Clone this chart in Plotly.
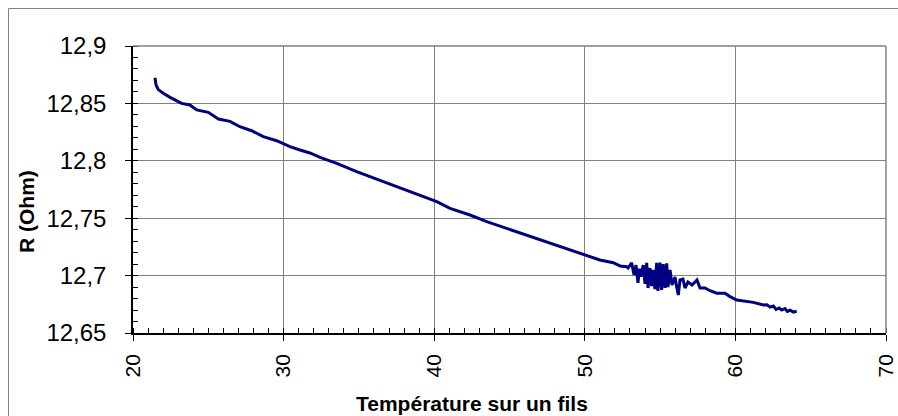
import plotly.graph_objects as go

# Temperature (x) and resistance (y)
temperature = [21.46, 21.53, 21.68, 22.01, 22.46, 22.90, 23.23, 23.78, 24.23, 25.00,
               25.67, 26.44, 27.10, 27.88, 28.65, 29.54, 30.42, 31.09, 31.75, 32.42,
               33.53, 34.85, 36.18, 37.51, 38.84, 40.17, 41.05, 42.38, 43.49, 44.81,
               46.14, 47.47, 48.80, 50.01, 51.00, 51.89, 52.34, 52.78, 52.87, 53.11,
               53.27, 53.40, 53.53, 53.63, 53.73, 53.88, 54.00, 54.11, 54.20, 54.33, 54.44,
               54.53, 54.66, 54.77, 54.86, 54.93, 54.99, 55.10, 55.21, 55.33, 55.44, 55.52,
               55.66, 55.79, 55.99, 56.10, 56.21, 56.32, 56.52, 56.65, 56.85, 57.12, 57.45,
               57.65, 57.98, 58.31, 58.76, 59.31, 59.64, 60.09, 60.75, 61.19, 61.86,
               62.10, 62.30, 62.52, 62.70, 62.90, 63.08, 63.30, 63.45, 63.63, 63.85, 64.07]
resistance = [12.8724, 12.8660, 12.8620, 12.8588, 12.8553, 12.8524, 12.8500, 12.8486, 12.8443, 12.8422,
              12.8364, 12.8344, 12.8297, 12.8262, 12.8210, 12.8175, 12.8123, 12.8094, 12.8068, 12.8030,
              12.7978, 12.7905, 12.7839, 12.7769, 12.7708, 12.7644, 12.7586, 12.7528, 12.7470, 12.7412,
              12.7354, 12.7295, 12.7238, 12.7186, 12.7136, 12.7112, 12.7084, 12.7077, 12.7066, 12.7111,
              12.7005, 12.7092, 12.6936, 12.7060, 12.6990, 12.7092, 12.6927, 12.7111, 12.6892, 12.7066, 12.6909,
              12.7049, 12.6883, 12.7111, 12.6866, 12.7010, 12.7113, 12.6875, 12.7101, 12.6892, 12.7107, 12.6901,
              12.7049, 12.6918, 12.6988, 12.6900, 12.6831, 12.6962, 12.6970, 12.6892, 12.6944, 12.6918, 12.6962,
              12.6892, 12.6892, 12.6868, 12.6846, 12.6846, 12.6817, 12.6787, 12.6773, 12.6767, 12.6744,
              12.6745, 12.6725, 12.6735, 12.6705, 12.6718, 12.6700, 12.6712, 12.6688, 12.6698, 12.6682, 12.6690]

x_ticks = [20, 30, 40, 50, 60, 70]
y_ticks = [12.65, 12.7, 12.75, 12.8, 12.85, 12.9]

x_title = "Température sur un fils"
y_title = "R (Ohm)"

FONT = "Arial, Liberation Sans, sans-serif"

# Plot area at x 133..886, y 46..333 in the 898x416 window (body margin removed).
L, T, R, B = 133, 46, 12, 83
W, H = 898, 416
PW, PH = W - L - R, H - T - B


def px_x(p):
    return (p - L) / PW


def px_y(p):
    return (H - B - p) / PH


fig = go.Figure()
fig.add_trace(go.Scatter(x=temperature, y=resistance, mode="lines",
                         line=dict(color="#000080", width=3), hoverinfo="skip"))

fig.update_layout(
    width=W, height=H,
    margin=dict(l=L, r=R, t=T, b=B, autoexpand=False),
    paper_bgcolor="white", plot_bgcolor="white",
    separators=", ",
    showlegend=False,
    font=dict(family=FONT, color="black"),
)

fig.update_xaxes(
    range=[20, 70], tickmode="array", tickvals=x_ticks,
    ticktext=[str(v) for v in x_ticks], automargin=False,
    showgrid=True, gridcolor="#808080", gridwidth=1.3,
    showline=True, linecolor="black", linewidth=1.5,
    ticks="outside", ticklen=6, tickcolor="black", tickwidth=1,
    tickangle=-90, tickfont=dict(size=21, family=FONT), ticklabelstandoff=5,
    ticklabeloverflow="allow",
    minor=dict(tickmode="linear", tick0=20, dtick=1, ticks="inside", ticklen=5,
               tickcolor="black", tickwidth=1, showgrid=False),
    zeroline=False,
)
fig.update_yaxes(
    range=[12.65, 12.9], tickmode="array", tickvals=y_ticks,
    ticktext=[f"{v:g}".replace(".", ",") for v in y_ticks], automargin=False,
    showgrid=True, gridcolor="#808080", gridwidth=1.3,
    showline=True, linecolor="black", linewidth=1.5,
    ticks="outside", ticklen=6, tickcolor="black", tickwidth=1,
    tickfont=dict(size=24, family=FONT), ticklabelstandoff=14,
    ticklabeloverflow="allow",
    minor=dict(tickmode="linear", tick0=12.65, dtick=0.01, ticks="inside", ticklen=5,
               tickcolor="black", tickwidth=1, showgrid=False),
    zeroline=False,
)

# plot-area top and right border (gray)
fig.add_shape(type="line", xref="paper", yref="paper", x0=0, x1=1, y0=1, y1=1,
              line=dict(color="#808080", width=1.5))
fig.add_shape(type="line", xref="paper", yref="paper", x0=1, x1=1, y0=0, y1=1,
              line=dict(color="#808080", width=1.5))
# chart outer border (left/top visible)
fig.add_shape(type="rect", xref="paper", yref="paper",
              x0=px_x(8.5), x1=px_x(W + 20), y0=px_y(H + 20), y1=px_y(8.5),
              line=dict(color="#808080", width=1), layer="below")

fig.add_annotation(text=f"<b>{x_title}</b>", xref="paper", yref="paper",
                   x=px_x(472), y=px_y(403), showarrow=False,
                   font=dict(size=21, family=FONT), xanchor="center", yanchor="middle")
fig.add_annotation(text=f"<b>{y_title}</b>", xref="paper", yref="paper",
                   x=px_x(27), y=px_y(211), showarrow=False, textangle=-90,
                   font=dict(size=21, family=FONT), xanchor="center", yanchor="middle")

fig.write_html(
    "out.html",
    config={"displayModeBar": False},
    post_script="document.body.style.margin='0';document.body.style.overflow='hidden';",
)
